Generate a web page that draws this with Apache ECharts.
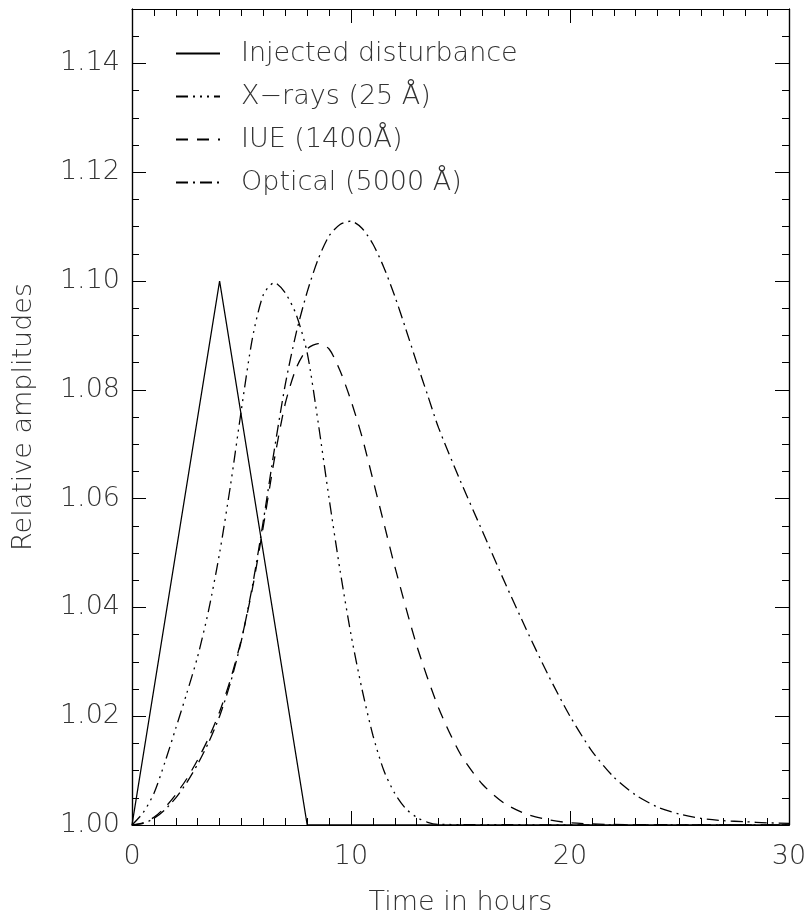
<!DOCTYPE html>
<html>
<head>
<meta charset="utf-8">
<script src="https://cdn.jsdelivr.net/npm/echarts@6/dist/echarts.min.js"></script>
<style>html,body{margin:0;padding:0;background:#fff;}#c{width:810px;height:921px;}</style>
</head>
<body>
<div id="c"></div>
<script>
// ---- data ----
const seriesNames = ['Injected disturbance', 'X\u2212rays (25 \u00C5)', 'IUE (1400\u00C5)', 'Optical (5000 \u00C5)'];
const xTickLabels = ['0', '10', '20', '30'];
const yTickLabels = ['1.00', '1.02', '1.04', '1.06', '1.08', '1.10', '1.12', '1.14'];

const injT = [0, 4, 8, 30];
const injV = [1.000, 1.100, 1.000, 1.000];

const xrayT = [0, 0.5, 1, 1.5, 2, 2.5, 3, 3.5, 4, 4.5, 5, 5.5, 6, 6.5, 7, 7.5, 8, 8.5, 9, 9.5, 10, 10.5, 11, 11.5, 12, 12.5, 13, 13.5, 14, 30];
const xrayV = [1.0000, 1.0022, 1.0058, 1.0115, 1.0178, 1.0242, 1.0310, 1.0395, 1.0500, 1.0625, 1.0765, 1.0895, 1.0975, 1.0997, 1.0978, 1.0938, 1.0868, 1.0740, 1.0600, 1.0468, 1.0350, 1.0250, 1.0165, 1.0100, 1.0058, 1.0030, 1.0014, 1.0005, 1.0001, 1.0000];

const iueT = [0, 0.5, 1, 1.5, 2, 2.5, 3, 3.5, 4, 4.5, 5, 5.5, 6, 6.5, 7, 7.5, 8, 8.5, 9, 9.5, 10, 10.5, 11, 11.5, 12, 13, 14, 15, 16, 17, 18, 19, 20, 22, 30];
const iueV = [1.0000, 1.0004, 1.0014, 1.0032, 1.0056, 1.0085, 1.0120, 1.0160, 1.0208, 1.0268, 1.0342, 1.0435, 1.0550, 1.0672, 1.0775, 1.0840, 1.0875, 1.0885, 1.0875, 1.0835, 1.0780, 1.0714, 1.0635, 1.0555, 1.0475, 1.0330, 1.0215, 1.0130, 1.0075, 1.0040, 1.0020, 1.0010, 1.0004, 1.0001, 1.0000];

const optT = [0, 0.5, 1, 1.5, 2, 2.5, 3, 3.5, 4, 4.5, 5, 5.5, 6, 6.5, 7, 7.5, 8, 8.5, 9, 9.5, 10, 10.5, 11, 11.5, 12, 12.5, 13, 13.5, 14, 15, 16, 17, 18, 19, 20, 21, 22, 23, 24, 25, 26, 27, 28, 29, 30];
const optV = [1.0000, 1.0003, 1.0012, 1.0028, 1.0050, 1.0078, 1.0112, 1.0152, 1.0200, 1.0262, 1.0340, 1.0440, 1.0560, 1.0690, 1.0810, 1.0905, 1.0980, 1.1040, 1.1083, 1.1104, 1.1110, 1.1097, 1.1068, 1.1025, 1.0972, 1.0912, 1.0850, 1.0790, 1.0730, 1.0632, 1.0540, 1.0448, 1.0360, 1.0276, 1.0200, 1.0136, 1.0088, 1.0055, 1.0033, 1.0020, 1.0012, 1.0008, 1.0006, 1.0004, 1.0003];

// ---- chart ----
const zip = (t, v) => t.map((x, i) => [x, v[i]]);
const FONT = 'DejaVu Sans';
const TXT = '#333';
const chart = echarts.init(document.getElementById('c'), null, { renderer: 'canvas' });

const axisLineStyle = { color: '#000', width: 1.2 };
function xAx(pos, showLabels) {
  return {
    type: 'value', position: pos, min: 0, max: 30, interval: 10,
    name: showLabels ? 'Time in hours' : '', nameLocation: 'middle', nameGap: 64,
    nameTextStyle: { fontFamily: FONT, fontWeight: 200, fontSize: 27, color: TXT },
    axisLine: { show: true, onZero: false, lineStyle: axisLineStyle },
    axisTick: { show: true, inside: true, length: 14, lineStyle: { color: '#000', width: 1 } },
    minorTick: { show: true, splitNumber: 10, length: 7, lineStyle: { color: '#000', width: 1 } },
    axisLabel: { show: showLabels, margin: 18, fontFamily: FONT, fontWeight: 200, fontSize: 27, color: TXT,
      formatter: v => xTickLabels[Math.round(v / 10)] },
    splitLine: { show: false }
  };
}
function yAx(pos, showLabels, interval, tickLen) {
  return {
    type: 'value', position: pos, min: 1.0, max: 1.15, interval: interval,
    name: showLabels ? 'Relative amplitudes' : '', nameLocation: 'middle', nameGap: 95,
    nameTextStyle: { fontFamily: FONT, fontWeight: 200, fontSize: 27, color: TXT },
    axisLine: { show: true, onZero: false, lineStyle: axisLineStyle },
    axisTick: { show: true, inside: true, length: tickLen, lineStyle: { color: '#000', width: 1 } },
    axisLabel: { show: showLabels, margin: 12, showMaxLabel: false, fontFamily: FONT, fontWeight: 200, fontSize: 27, color: TXT,
      formatter: v => { const i = Math.round((v - 1) / 0.02); return Math.abs(v - 1 - i * 0.02) < 1e-6 ? yTickLabels[i] : ''; } },
    splitLine: { show: false }
  };
}

const lineBase = (name, data, type, smooth) => ({
  name, type: 'line', data, xAxisIndex: 0, yAxisIndex: 0,
  showSymbol: false, symbol: 'none', smooth: smooth, clip: true,
  itemStyle: { color: '#000' },
  lineStyle: { color: '#000', width: 1.3, type: type }
});

chart.setOption({
  animation: false,
  backgroundColor: '#fff',
  grid: { left: 132, right: 21, top: 9, bottom: 89, containLabel: false },
  xAxis: [xAx('bottom', true), xAx('top', false)],
  yAxis: [yAx('left', true, 0.02, 14), yAx('right', false, 0.02, 14), yAx('left', false, 0.005, 7), yAx('right', false, 0.005, 7)],
  legend: {
    show: true, orient: 'vertical', left: 175, top: 32, padding: 0,
    itemWidth: 44, itemHeight: 14, itemGap: 0,
    itemStyle: { opacity: 0 },
    data: seriesNames.map(n => ({ name: n })),
    textStyle: { fontFamily: FONT, fontWeight: 200, fontSize: 27, color: TXT, lineHeight: 27, padding: [0, 0, 16, 16] },
    selectedMode: false
  },
  series: [
    lineBase(seriesNames[0], zip(injT, injV), 'solid', false),
    lineBase(seriesNames[1], zip(xrayT, xrayV), [12, 5, 2, 5, 2, 5, 2, 5], 0.25),
    lineBase(seriesNames[2], zip(iueT, iueV), [12, 9], 0.25),
    lineBase(seriesNames[3], zip(optT, optV), [12, 5, 2, 5], 0.25)
  ]
});
</script>
</body>
</html>
